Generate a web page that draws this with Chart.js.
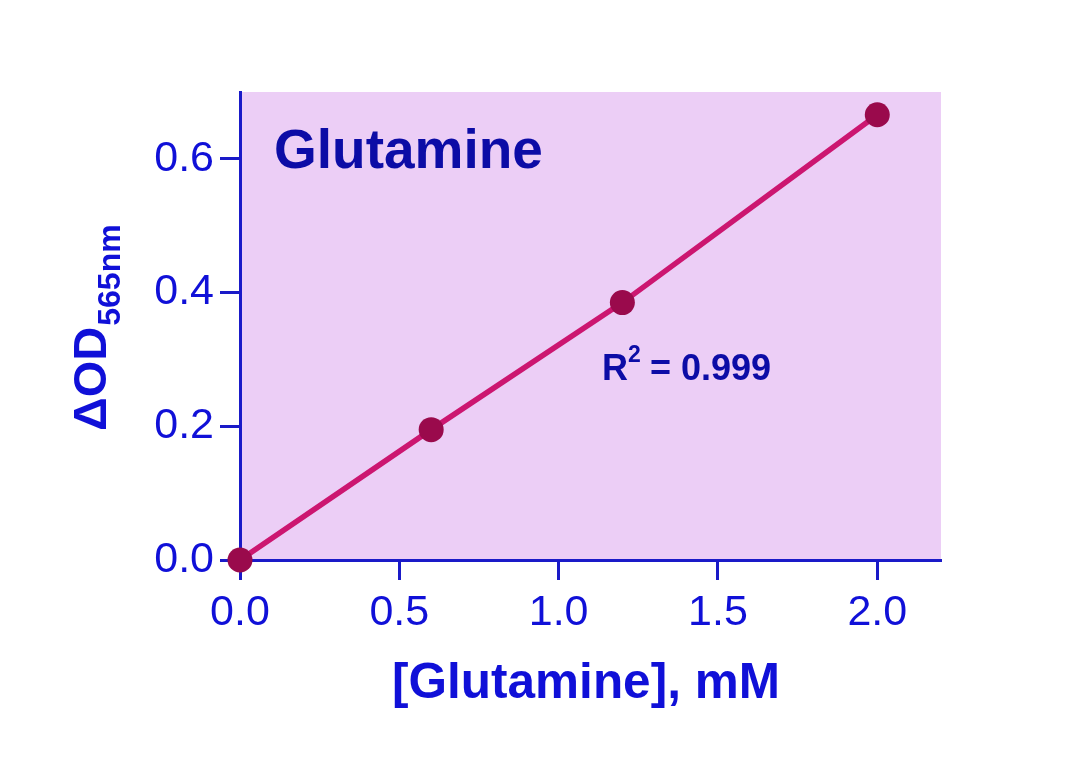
<!DOCTYPE html>
<html>
<head>
<meta charset="utf-8">
<script src="https://cdn.jsdelivr.net/npm/chart.js@4/dist/chart.umd.min.js"></script>
<style>
  html, body { margin: 0; padding: 0; background: #fff; }
  #wrap { width: 1086px; height: 757px; }
</style>
</head>
<body>
<div id="wrap"><canvas id="chart" width="1086" height="757"></canvas></div>
<script>
// glutamine standard curve
const concentrations = [0, 0.6, 1.2, 2.0];
const deltaOD = [0, 0.195, 0.385, 0.666];
const xTicks = [0, 0.5, 1.0, 1.5, 2.0];
const yTicks = [0, 0.2, 0.4, 0.6];

const blue = '#1010d8';
const navy = '#0c0ca6';
const axisBlue = '#1a1ac8';

// lilac background in the plot area
const plotBg = {
  id: 'plotBg',
  beforeDraw(chart) {
    const { ctx, chartArea: a } = chart;
    ctx.save();
    ctx.fillStyle = '#eccef6';
    ctx.fillRect(a.left, a.top, a.right - a.left, a.bottom - a.top);
    ctx.restore();
  }
};

// titles and annotation text
const labels = {
  id: 'labels',
  afterDraw(chart) {
    const ctx = chart.ctx;
    ctx.save();
    ctx.textBaseline = 'alphabetic';
    ctx.textAlign = 'left';

    ctx.fillStyle = navy;
    ctx.font = 'bold 55px Arial, "Liberation Sans", sans-serif';
    ctx.fillText('Glutamine', 274, 168);

    // R^2
    ctx.font = 'bold 36px Arial, "Liberation Sans", sans-serif';
    ctx.fillText('R', 602, 380);
    let w = ctx.measureText('R').width;
    ctx.font = 'bold 23px Arial, "Liberation Sans", sans-serif';
    ctx.fillText('2', 602 + w, 362);
    ctx.font = 'bold 36px Arial, "Liberation Sans", sans-serif';
    ctx.fillText('= 0.999', 650, 380);

    // x title
    ctx.fillStyle = blue;
    ctx.textAlign = 'center';
    ctx.font = 'bold 49.5px Arial, "Liberation Sans", sans-serif';
    ctx.fillText('[Glutamine], mM', 586, 698);

    // y title with subscript
    ctx.translate(106, 431);
    ctx.rotate(-Math.PI / 2);
    ctx.textAlign = 'left';
    ctx.font = 'bold 47px Arial, "Liberation Sans", sans-serif';
    ctx.fillText('ΔOD', 0, 0);
    w = ctx.measureText('ΔOD').width;
    ctx.font = 'bold 32px Arial, "Liberation Sans", sans-serif';
    ctx.fillText('565nm', w + 1, 14);
    ctx.restore();
  }
};

new Chart(document.getElementById('chart').getContext('2d'), {
  type: 'line',
  data: {
    datasets: [{
      data: concentrations.map((x, i) => ({ x: x, y: deltaOD[i] })),
      borderColor: '#cc1670',
      borderWidth: 5.5,
      pointRadius: 12.5,
      pointHoverRadius: 12.5,
      pointBackgroundColor: '#9a0a4c',
      pointBorderWidth: 0,
      tension: 0,
      clip: false
    }]
  },
  options: {
    responsive: false,
    animation: false,
    events: [],
    layout: { padding: { top: 92, right: 145, left: 0, bottom: 0 } },
    plugins: { legend: { display: false }, tooltip: { enabled: false } },
    scales: {
      x: {
        type: 'linear',
        min: 0,
        max: 2.2,
        afterFit(s) { s.height = 197; },
        afterBuildTicks(s) { s.ticks = xTicks.map(v => ({ value: v })); },
        border: { color: axisBlue, width: 3 },
        grid: { drawOnChartArea: false, tickLength: 20, tickColor: axisBlue, tickWidth: 3 },
        ticks: {
          color: blue,
          padding: 7,
          maxRotation: 0,
          font: { family: 'Arial, "Liberation Sans", sans-serif', size: 43 },
          callback: v => v.toFixed(1)
        }
      },
      y: {
        min: 0,
        max: 0.7,
        afterFit(s) { s.width = 240; },
        afterBuildTicks(s) { s.ticks = yTicks.map(v => ({ value: v })); },
        border: { color: axisBlue, width: 3 },
        grid: { drawOnChartArea: false, tickLength: 20, tickColor: axisBlue, tickWidth: 3 },
        ticks: {
          color: blue,
          padding: 6,
          font: { family: 'Arial, "Liberation Sans", sans-serif', size: 43 },
          callback: v => v.toFixed(1)
        }
      }
    }
  },
  plugins: [plotBg, labels]
});
</script>
</body>
</html>
